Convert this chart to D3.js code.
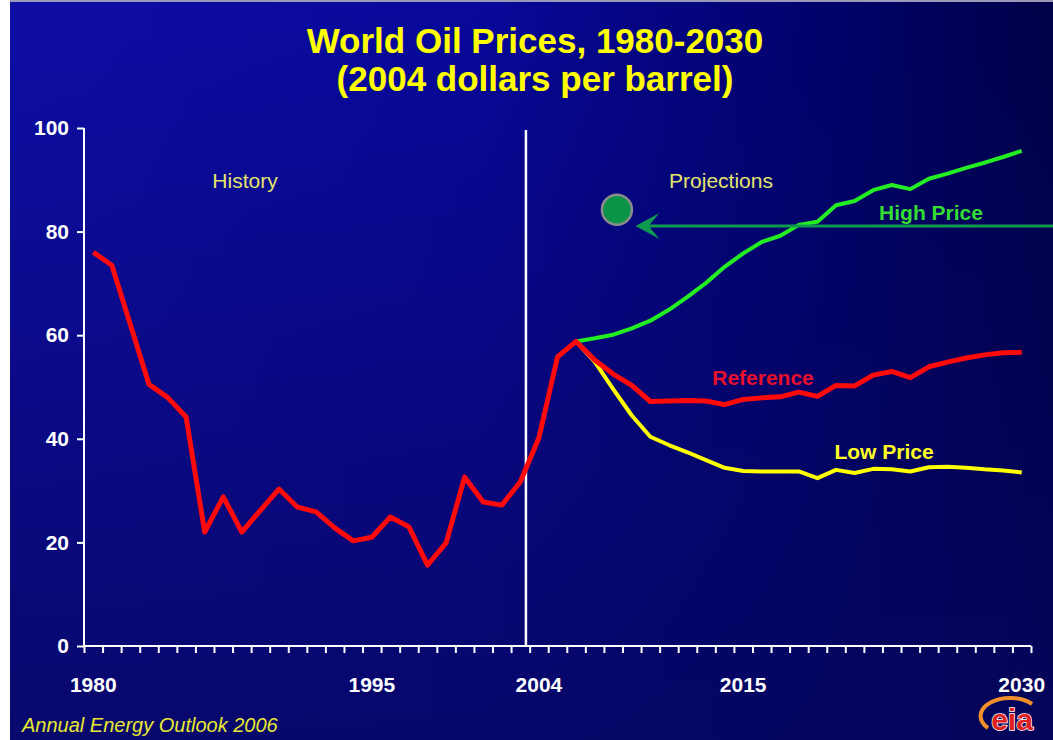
<!DOCTYPE html>
<html lang="en">

<head>
    <meta charset="UTF-8">
    <title>World Oil Prices, 1980-2030</title>
    <script src="https://cdn.jsdelivr.net/npm/d3@7"></script>
    <style>
        body {
            margin: 0;
            background: #ffffff;
        }

        svg text {
            font-family: "Liberation Sans", Arial, sans-serif;
        }
    </style>
</head>

<body>
    <svg id="chart" width="1053" height="740"></svg>

    <script>
        // history 1980-2006 then reference case to 2030
        let years = d3.range(1980, 2031);
        let reference = [76, 73.5, 62, 50.5, 48, 44.2, 22, 28.8, 22, 26.2, 30.3, 26.8, 25.9, 22.8, 20.3, 21,
            24.9, 23, 15.6, 19.9, 32.6, 27.8, 27.2, 31.7, 40.2, 55.8, 58.8,
            55.2, 52.5, 50.3, 47.2, 47.3, 47.4, 47.3, 46.6, 47.6, 47.9, 48.1, 49, 48.2, 50.3,
            50.2, 52.3, 53, 51.8, 53.9, 54.8, 55.6, 56.2, 56.6, 56.7];
        let projYears = d3.range(2006, 2031);
        let highPrice = [58.8, 59.4, 60.1, 61.3, 62.8, 64.9, 67.4, 70.1, 73.2, 75.8, 78, 79.2, 81.3, 81.9, 85.1,
            85.9, 88, 89, 88.2, 90.2, 91.2, 92.3, 93.3, 94.4, 95.6];
        let lowPrice = [58.8, 54.9, 49.6, 44.5, 40.4, 38.8, 37.4, 35.9, 34.4, 33.8, 33.7, 33.7, 33.7, 32.4, 34,
            33.4, 34.2, 34.1, 33.7, 34.5, 34.6, 34.4, 34.1, 33.9, 33.5];
        let yTicks = [0, 20, 40, 60, 80, 100];
        let xLabels = [1980, 1995, 2004, 2015, 2030];

        let svg = d3.select("#chart");
        let W = 1053, H = 740;

        // background
        let defs = svg.append("defs");
        let gh = defs.append("linearGradient").attr("id", "bgH")
            .attr("x1", 0).attr("y1", 0).attr("x2", 1).attr("y2", 0);
        gh.append("stop").attr("offset", 0).attr("stop-color", "#0e0ea6");
        gh.append("stop").attr("offset", 0.45).attr("stop-color", "#08089a");
        gh.append("stop").attr("offset", 0.75).attr("stop-color", "#020270");
        gh.append("stop").attr("offset", 1).attr("stop-color", "#000048");
        let gv = defs.append("linearGradient").attr("id", "bgV")
            .attr("x1", 0).attr("y1", 0).attr("x2", 0).attr("y2", 1);
        gv.append("stop").attr("offset", 0).attr("stop-color", "#06065e").attr("stop-opacity", 0);
        gv.append("stop").attr("offset", 1).attr("stop-color", "#06065e").attr("stop-opacity", 0.8);

        svg.append("rect").attr("x", 10).attr("y", 0).attr("width", W - 10).attr("height", 2)
            .attr("fill", "#9a9ab8");
        svg.append("rect").attr("x", 10).attr("y", 2).attr("width", W - 10).attr("height", H - 2)
            .attr("fill", "url(#bgH)");
        svg.append("rect").attr("x", 10).attr("y", 2).attr("width", W - 10).attr("height", H - 2)
            .attr("fill", "url(#bgV)");

        // scales
        let x = d3.scaleLinear().domain([1979.5, 2030.5]).range([84, 1031]);
        let y = d3.scaleLinear().domain([0, 100]).range([646, 128]);

        // title
        svg.append("text").attr("x", 535).attr("y", 53).attr("text-anchor", "middle")
            .attr("font-size", 35).attr("font-weight", "bold").attr("fill", "#ffff00")
            .text("World Oil Prices, 1980-2030");
        svg.append("text").attr("x", 535).attr("y", 91).attr("text-anchor", "middle")
            .attr("font-size", 35).attr("font-weight", "bold").attr("fill", "#ffff00")
            .text("(2004 dollars per barrel)");

        // y axis
        let yAxis = svg.append("g")
            .attr("transform", "translate(" + x.range()[0] + ",0)")
            .call(d3.axisLeft(y).tickValues(yTicks).tickSize(7).tickPadding(8));
        // x axis, ticks between the years
        let xAxis = svg.append("g")
            .attr("transform", "translate(0," + y(0) + ")")
            .call(d3.axisBottom(x).tickValues(d3.range(1979.5, 2031, 1)).tickSize(7).tickFormat(""));
        svg.selectAll(".domain").attr("stroke", "#ffffff").attr("stroke-width", 2);
        svg.selectAll(".tick line").attr("stroke", "#ffffff").attr("stroke-width", 2);
        yAxis.select(".domain").attr("d", "M0," + y(100) + "V" + y(0));
        xAxis.select(".domain").attr("d", "M" + x.range()[0] + ",0H" + x.range()[1]);
        yAxis.selectAll(".tick text").attr("fill", "#ffffff").attr("font-size", 21)
            .attr("font-weight", "bold").attr("font-family", "Liberation Sans, Arial, sans-serif");

        svg.append("g").selectAll("text").data(xLabels).join("text")
            .attr("x", d => x(d)).attr("y", 692).attr("text-anchor", "middle")
            .attr("font-size", 21).attr("font-weight", "bold").attr("fill", "#ffffff")
            .text(d => d);

        // history / projections divider
        svg.append("line")
            .attr("x1", x(2003.3)).attr("x2", x(2003.3)).attr("y1", y(99.6)).attr("y2", y(0))
            .attr("stroke", "#ffffff").attr("stroke-width", 2.5);

        svg.append("text").attr("x", 245).attr("y", 188).attr("text-anchor", "middle")
            .attr("font-size", 21).attr("fill", "#e4e46c").text("History");
        svg.append("text").attr("x", 721).attr("y", 188).attr("text-anchor", "middle")
            .attr("font-size", 21).attr("fill", "#e4e46c").text("Projections");

        // series
        let line = d3.line().x(d => x(d[0])).y(d => y(d[1]));
        svg.append("path").datum(d3.zip(projYears, lowPrice)).attr("d", line)
            .attr("fill", "none").attr("stroke", "#ffff00").attr("stroke-width", 4)
            .attr("stroke-linejoin", "round");
        svg.append("path").datum(d3.zip(projYears, highPrice)).attr("d", line)
            .attr("fill", "none").attr("stroke", "#22ee22").attr("stroke-width", 4)
            .attr("stroke-linejoin", "round");
        svg.append("path").datum(d3.zip(years, reference)).attr("d", line)
            .attr("fill", "none").attr("stroke", "#ff0a0a").attr("stroke-width", 5)
            .attr("stroke-linejoin", "round");

        // labels
        svg.append("text").attr("x", 931).attr("y", 220).attr("text-anchor", "middle")
            .attr("font-size", 21).attr("font-weight", "bold").attr("fill", "#33dd33").text("High Price");
        svg.append("text").attr("x", 763).attr("y", 385).attr("text-anchor", "middle")
            .attr("font-size", 21).attr("font-weight", "bold").attr("fill", "#e8102a").text("Reference");
        svg.append("text").attr("x", 884).attr("y", 459).attr("text-anchor", "middle")
            .attr("font-size", 21).attr("font-weight", "bold").attr("fill", "#ffff22").text("Low Price");

        // marker + arrow
        svg.append("circle").attr("cx", x(2008.2)).attr("cy", y(84.2)).attr("r", 15)
            .attr("fill", "#0b9448").attr("stroke", "#8c8c8c").attr("stroke-width", 2.5);
        let ay = y(81.1), ax = x(2009.2);
        svg.append("line").attr("x1", ax + 8).attr("x2", W).attr("y1", ay).attr("y2", ay)
            .attr("stroke", "#109a50").attr("stroke-width", 3);
        svg.append("path")
            .attr("d", "M" + ax + "," + ay + "L" + (ax + 24) + "," + (ay - 13) + "L" + (ax + 13) + "," + ay +
                "L" + (ax + 24) + "," + (ay + 13) + "Z")
            .attr("fill", "#109a50");

        // footer
        svg.append("text").attr("x", 22).attr("y", 732)
            .attr("font-size", 20).attr("font-style", "italic").attr("fill", "#e8e830")
            .text("Annual Energy Outlook 2006");

        // eia logo
        let logo = svg.append("g").attr("transform", "translate(1010,718)");
        logo.append("path").attr("d", "M-22,10 A26,16 0 1,1 22,-14")
            .attr("fill", "none").attr("stroke", "#f0902a").attr("stroke-width", 4);
        logo.append("text").attr("x", 2).attr("y", 12).attr("text-anchor", "middle")
            .attr("font-size", 30).attr("font-weight", "bold").attr("fill", "#e02020")
            .attr("stroke", "#ffffff").attr("stroke-width", 1.5).attr("paint-order", "stroke")
            .text("eia");
    </script>

</body>

</html>
